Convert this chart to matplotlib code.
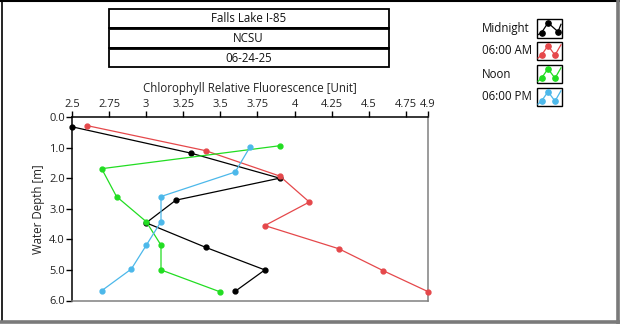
import matplotlib
matplotlib.use("Agg")
import matplotlib.pyplot as plt
from matplotlib.patches import Rectangle
from matplotlib.lines import Line2D

plt.rcParams['font.family'] = ['Open Sans', 'DejaVu Sans']

W, H = 620, 324

series_names = ["Midnight", "06:00 AM", "Noon", "06:00 PM"]
colors = ["#000000", "#e5484b", "#22dd22", "#4cb8ea"]

midnight_val = [2.5, 3.3, 3.9, 3.2, 3.0, 3.4, 3.8, 3.6]
midnight_depth = [0.32, 1.18, 2.0, 2.72, 3.46, 4.26, 5.0, 5.7]
am_val = [2.6, 3.4, 3.9, 4.1, 3.8, 4.3, 4.6, 4.9]
am_depth = [0.28, 1.1, 1.93, 2.78, 3.55, 4.31, 5.03, 5.71]
noon_val = [3.9, 2.7, 2.8, 3.0, 3.1, 3.1, 3.5]
noon_depth = [0.94, 1.69, 2.6, 3.42, 4.19, 5.0, 5.72]
pm_val = [3.7, 3.6, 3.1, 3.1, 3.0, 2.9, 2.7]
pm_depth = [0.98, 1.8, 2.6, 3.42, 4.2, 4.97, 5.68]

xticks = [2.5, 2.75, 3, 3.25, 3.5, 3.75, 4, 4.25, 4.5, 4.75, 4.9]
xtick_labels = ["2.5", "2.75", "3", "3.25", "3.5", "3.75", "4", "4.25", "4.5", "4.75", "4.9"]
yticks = [0, 1, 2, 3, 4, 5, 6]
ytick_labels = ["0.0", "1.0", "2.0", "3.0", "4.0", "5.0", "6.0"]
title_lines = ["Falls Lake I-85", "NCSU", "06-24-25"]

fig = plt.figure(figsize=(W / 100, H / 100), dpi=100)

def fx(px):
    return px / W

def fy(py):
    return 1 - py / H

ax = fig.add_axes([fx(72), fy(300.5), fx(428) - fx(72), fy(117) - fy(300.5)])

data = [(midnight_val, midnight_depth), (am_val, am_depth), (noon_val, noon_depth), (pm_val, pm_depth)]
for (v, d), c in zip(data, colors):
    ax.plot(v, d, color=c, lw=0.9, marker='o', ms=3.5, mec=c, mfc=c, clip_on=False, zorder=3)

ax.set_xlim(2.5, 4.9)
ax.set_ylim(6, 0)
ax.xaxis.tick_top()
ax.xaxis.set_label_position('top')
ax.set_xticks(xticks)
ax.set_xticklabels(xtick_labels)
ax.set_yticks(yticks)
ax.set_yticklabels(ytick_labels)
ax.tick_params(axis='both', direction='out', length=4, width=1, labelsize=8, pad=1, colors='#000000')
ax.tick_params(axis='x', labelcolor='#222222')
ax.tick_params(axis='y', labelcolor='#222222')
ax.set_xlabel("Chlorophyll Relative Fluorescence [Unit]", fontsize=8.3, labelpad=5, color='#222222')
ax.set_ylabel("Water Depth [m]", fontsize=8.3, labelpad=3, color='#222222')
ax.spines['top'].set_color('#000000')
ax.spines['left'].set_color('#000000')
ax.spines['right'].set_color('#808080')
ax.spines['bottom'].set_color('#808080')
for s in ax.spines.values():
    s.set_linewidth(1.1)

# outer border
fig.add_artist(Line2D([fx(0), fx(619)], [fy(0.5), fy(0.5)], color='black', lw=1.5))
fig.add_artist(Line2D([fx(1.5), fx(1.5)], [fy(0), fy(322)], color='black', lw=1.2))
fig.add_artist(Line2D([fx(618), fx(618)], [fy(0), fy(324)], color='#7a7a7a', lw=2.6))
fig.add_artist(Line2D([fx(0), fx(620)], [fy(322), fy(322)], color='#7a7a7a', lw=2.6))

# title boxes
row_edges = [8.5, 28, 48, 67]
for i, t in enumerate(title_lines):
    y0, y1 = row_edges[i], row_edges[i + 1]
    fig.add_artist(Rectangle((fx(108.5), fy(y1)), fx(389) - fx(108.5), fy(y0) - fy(y1),
                             fill=False, ec='black', lw=1.3))
    fig.text(fx(248.5), fy((y0 + y1) / 2 + 0.5), t, ha='center', va='center', fontsize=8.3, color='#111111')
for yy in [28, 48]:
    fig.add_artist(Line2D([fx(108.5), fx(388.5)], [fy(yy), fy(yy)], color='black', lw=2.0,
                          solid_capstyle='butt'))

# legend
icon_tops = [19.3, 41.7, 64.8, 87.7]
for name, c, top in zip(series_names, colors, icon_tops):
    bot = top + 18.4
    fig.text(fx(481.5), fy((top + bot) / 2), name, ha='left', va='center', fontsize=8.3, color='#111111')
    fig.add_artist(Rectangle((fx(536.5), fy(bot)), fx(562) - fx(536.5), fy(top) - fy(bot),
                             fill=False, ec='black', lw=1.0))
    if c == '#000000':
        px = [538, 541.5, 548, 558, 561]
        py = [bot - 3, bot - 5, top + 3.5, bot - 6, top + 5]
    else:
        px = [538, 541.5, 548, 555, 561]
        py = [bot - 2, bot - 5, top + 4, bot - 5, top + 3]
    mk = [1, 2, 3]
    fig.add_artist(Line2D([fx(p) for p in px], [fy(p) for p in py], color=c, lw=0.9))
    fig.add_artist(Line2D([fx(px[k]) for k in mk], [fy(py[k]) for k in mk], color=c, lw=0,
                          marker='o', ms=3.8, mfc=c, mec=c))

fig.savefig("out.png", dpi=100)
